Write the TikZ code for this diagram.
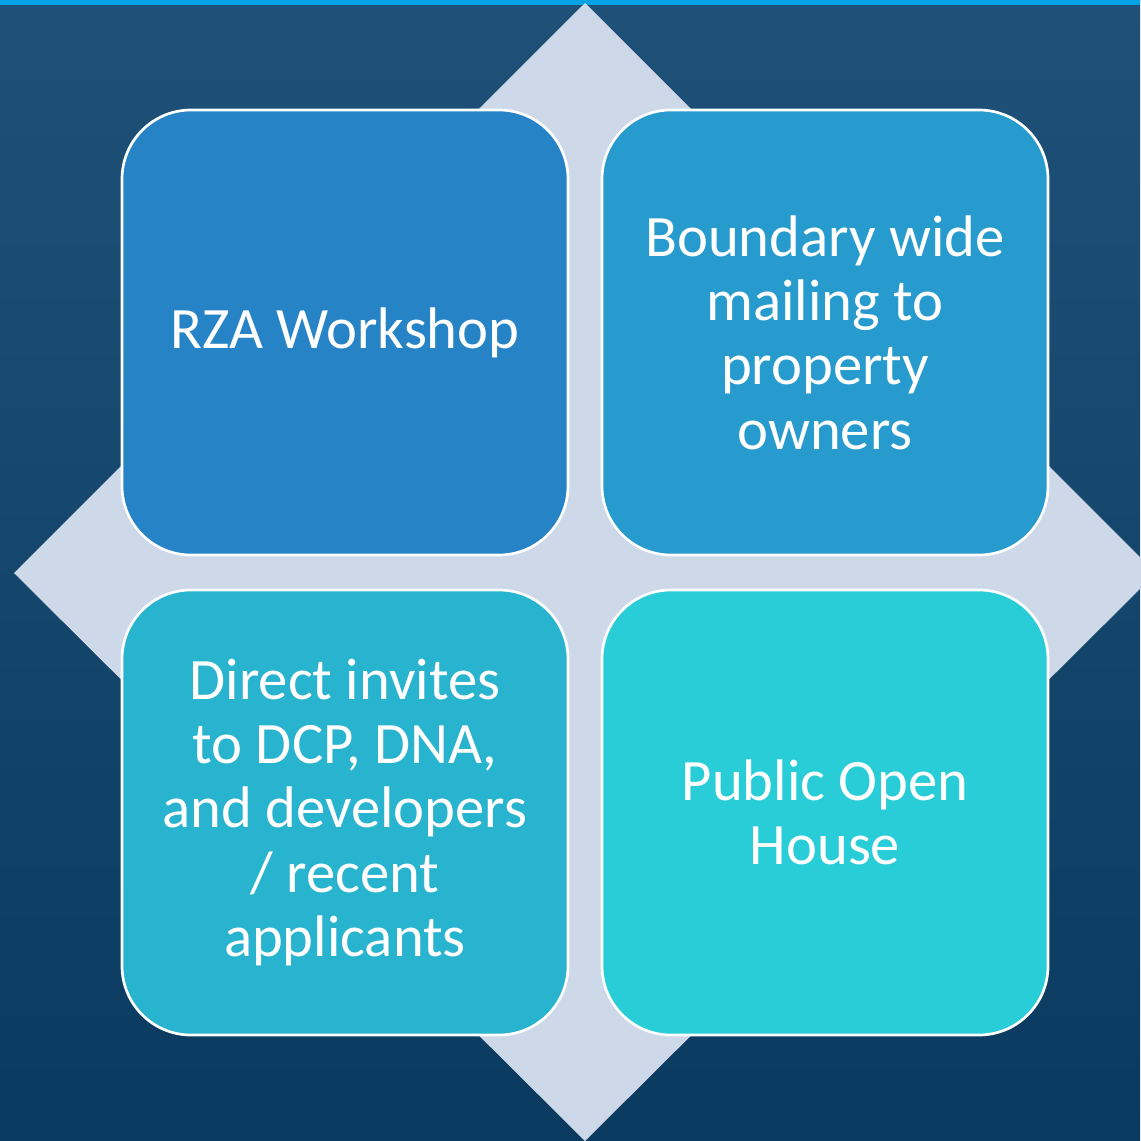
\documentclass[tikz,border=0pt]{standalone}
\usepackage{fontspec}
\setmainfont{Carlito}
\usepackage{tikz}
\usetikzlibrary{calc}

\definecolor{bgtop}{HTML}{1F5178}
\definecolor{bgbot}{HTML}{0A3A5F}
\definecolor{topline}{HTML}{05A3E6}
\definecolor{diamondfill}{HTML}{CDD8E9}
\definecolor{boxA}{HTML}{2683C6}
\definecolor{boxB}{HTML}{279BCD}
\definecolor{boxC}{HTML}{28B3CF}
\definecolor{boxD}{HTML}{28CDD8}

\tikzset{
  tile/.style={draw=white, line width=2pt, rounded corners=51.75pt,
    minimum width=334.5pt, minimum height=333.75pt, inner sep=0pt,
    text=white, align=center, font=\fontsize{44}{48.3}\selectfont}
}

\begin{document}
\begin{tikzpicture}[x=0.75pt,y=0.75pt,yscale=-1,xscale=1]
%Background
\shade [top color=bgtop, bottom color=bgbot] (0,0) rectangle (1140,1141);
\useasboundingbox (0,0) rectangle (1140,1141);
%Top line
\fill [topline] (0,0) rectangle (1140,5);

%Shape: Diamond
\coordinate (c) at (585,573);
\fill [diamondfill] ($(c)+(0,-570)$) -- ($(c)+(571,0)$) -- ($(c)+(0,568)$) -- ($(c)+(-571,0)$) -- cycle;

%Tiles
\node [tile, fill=boxA] (rza) at (345,332.5) {RZA Workshop};
\node [tile, fill=boxB] (mailing) at (825,332.5) {Boundary wide\\mailing to\\property\\owners};
\node [tile, fill=boxC] (invites) at (345,812.5) {Direct invites\\to DCP, DNA,\\and developers\\/ recent\\applicants};
\node [tile, fill=boxD] (openhouse) at (825,812.5) {Public Open\\House};

\end{tikzpicture}
\end{document}
